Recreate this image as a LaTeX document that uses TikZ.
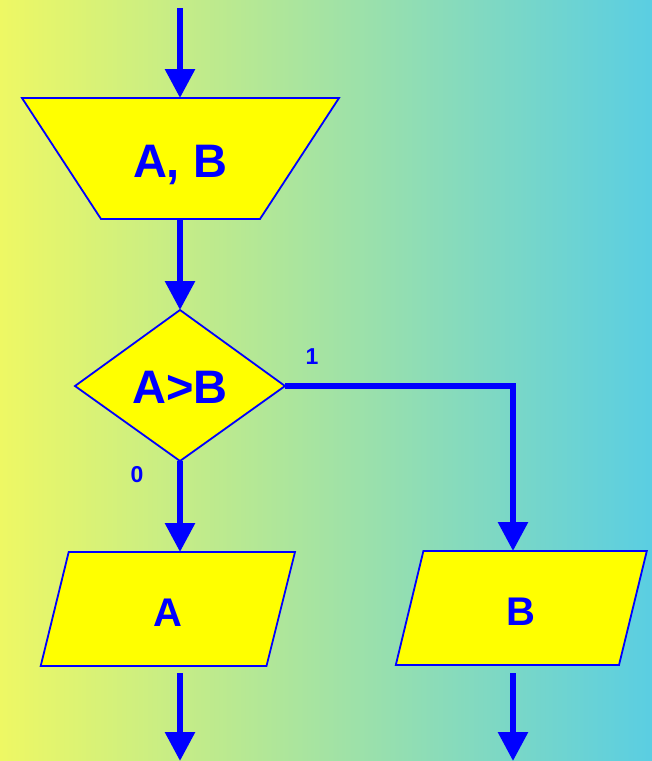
\documentclass[tikz,border=0pt]{standalone}
\usepackage{fontspec}
\setmainfont{Liberation Sans}
\usetikzlibrary{arrows.meta}
\definecolor{bgL}{RGB}{238,248,100}
\definecolor{bgM}{RGB}{192,232,178}
\definecolor{bgR}{RGB}{90,206,226}
\definecolor{fblue}{RGB}{0,0,255}
\definecolor{fyel}{RGB}{255,255,0}
\tikzset{
  shapebox/.style={draw=fblue, fill=fyel, line width=1.8pt, line join=miter},
  flow/.style={draw=fblue, line width=6pt, -{Triangle[length=29pt,width=29pt]}},
  bigtext/.style={text=fblue, font=\bfseries\fontsize{47}{50}\selectfont, inner sep=0pt, anchor=base},
  midtext/.style={text=fblue, font=\bfseries\fontsize{40}{44}\selectfont, inner sep=0pt, anchor=base},
  smalltext/.style={text=fblue, font=\bfseries\fontsize{23}{26}\selectfont, inner sep=0pt, anchor=base},
}
\begin{document}
\begin{tikzpicture}[x=1pt,y=-1pt]
\useasboundingbox (0,0) rectangle (652,761);
\shade[left color=bgL, middle color=bgM, right color=bgR] (0,0) rectangle (652,761);

% coordinates
\coordinate (start) at (180,8);
\coordinate (trTop) at (180,98);
\coordinate (trBot) at (180,219);
\coordinate (dTop) at (180,310);
\coordinate (dBot) at (180,461);
\coordinate (dRight) at (285,385.5);
\coordinate (corner) at (513,385.5);
\coordinate (pATop) at (180,552);
\coordinate (pBTop) at (513,551);
\coordinate (outAs) at (180,673);
\coordinate (outAe) at (180,761);
\coordinate (outBs) at (513,673);
\coordinate (outBe) at (513,761);

% shapes
\draw[shapebox] (22,98) -- (339,98) -- (260,219) -- (101,219) -- cycle;
\draw[shapebox] (180,310) -- (285,386) -- (180,461) -- (75,386) -- cycle;
\draw[shapebox] (68.7,552) -- (295,552) -- (266.5,666) -- (40.7,666) -- cycle;
\draw[shapebox] (423.4,551) -- (646.8,551) -- (619,665) -- (395.8,665) -- cycle;

% texts
\node[bigtext] (tin) at (180,177) {A, B};
\node[bigtext] (tcond) at (180,403) {A>B};
\node[midtext] (toutA) at (168,626) {A};
\node[midtext] (toutB) at (521,625) {B};
\node[smalltext] (lone) at (312,364) {1};
\node[smalltext] (lzero) at (137,482) {0};

% connectors
\draw[flow] (start) -- (trTop);
\draw[flow] (trBot) -- (dTop);
\draw[flow] (dBot) -- (pATop);
\draw[flow] (dRight) -- (corner) -- (pBTop);
\draw[flow] (outAs) -- (outAe);
\draw[flow] (outBs) -- (outBe);
\end{tikzpicture}
\end{document}
